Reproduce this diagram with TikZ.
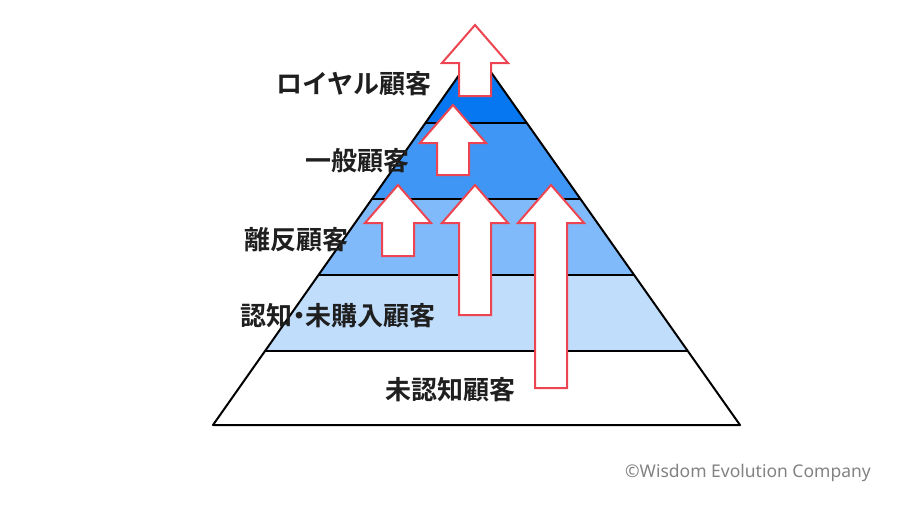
\documentclass[tikz,border=0pt]{standalone}
\usepackage{fontspec}
\usepackage{tikz}
\usetikzlibrary{calc,positioning}
\usepackage{xcolor}
\newfontfamily\jpfont{Noto Sans CJK JP}[BoldFont={Noto Sans CJK JP Bold}]
\newfontfamily\notofont{Noto Sans}
\definecolor{layerA}{RGB}{6,119,240}
\definecolor{layerB}{RGB}{64,150,245}
\definecolor{layerC}{RGB}{128,186,250}
\definecolor{layerD}{RGB}{192,222,252}
\definecolor{arrowRed}{RGB}{236,68,80}
\definecolor{creditGray}{RGB}{130,130,130}
\newcommand{\upArrow}[3]{%
  \draw[upArrowStyle] (#1,#2) -- (#1+33,#2+38) -- (#1+16,#2+38) -- (#1+16,#3)
    -- (#1-16,#3) -- (#1-16,#2+38) -- (#1-33,#2+38) -- cycle;}
\newcommand{\midDot}{{\addfontfeature{RawFeature=+palt}・}}

\begin{document}
\begin{tikzpicture}[x=1pt,y=-1pt,
  edge/.style={draw=black,line width=2pt,line join=round},
  upArrowStyle/.style={draw=arrowRed,fill=white,line width=2pt,line join=miter},
  levelLabel/.style={font=\jpfont\bfseries\fontsize{26}{26}\selectfont,text=black!88,inner sep=0pt}]
  \useasboundingbox (0,0) rectangle (900,506);
  \coordinate (A) at (476,51);
  \coordinate (L) at (213,425);
  \coordinate (R) at (740,425);
  % band borders on the two sides
  \foreach \i/\t in {1/0.1925,2/0.3957,3/0.599,4/0.802}{
    \coordinate (L\i) at ($(A)!\t!(L)$);
    \coordinate (R\i) at ($(A)!\t!(R)$);
  }
  \fill[layerA] (A)--(R1)--(L1)--cycle;
  \fill[layerB] (L1)--(R1)--(R2)--(L2)--cycle;
  \fill[layerC] (L2)--(R2)--(R3)--(L3)--cycle;
  \fill[layerD] (L3)--(R3)--(R4)--(L4)--cycle;
  \fill[white] (L4)--(R4)--(R)--(L)--cycle;
  \draw[edge] (A)--(R)--(L)--cycle;
  \foreach \i in {1,...,4} \draw[edge] (L\i)--(R\i);
  % arrows: x, tip, bottom
  \upArrow{475}{25}{96}
  \upArrow{453}{105}{175}
  \upArrow{398}{185}{256}
  \upArrow{475}{185}{315}
  \upArrow{551}{185}{388}
  \node[levelLabel] (loyal) at (354,84) {ロイヤル顧客};
  \node[levelLabel] (general) at (357,161) {一般顧客};
  \node[levelLabel] (lapsed) at (296,240) {離反顧客};
  \node[levelLabel] (aware) at (338,316) {認知\midDot 未購入顧客};
  \node[levelLabel] (unaware) at (450,390) {未認知顧客};
  \node[font=\notofont\fontsize{17.5}{17.5}\selectfont,text=creditGray,inner sep=0pt] (credit) at (748,473) {©Wisdom Evolution Company};
\end{tikzpicture}
\end{document}
